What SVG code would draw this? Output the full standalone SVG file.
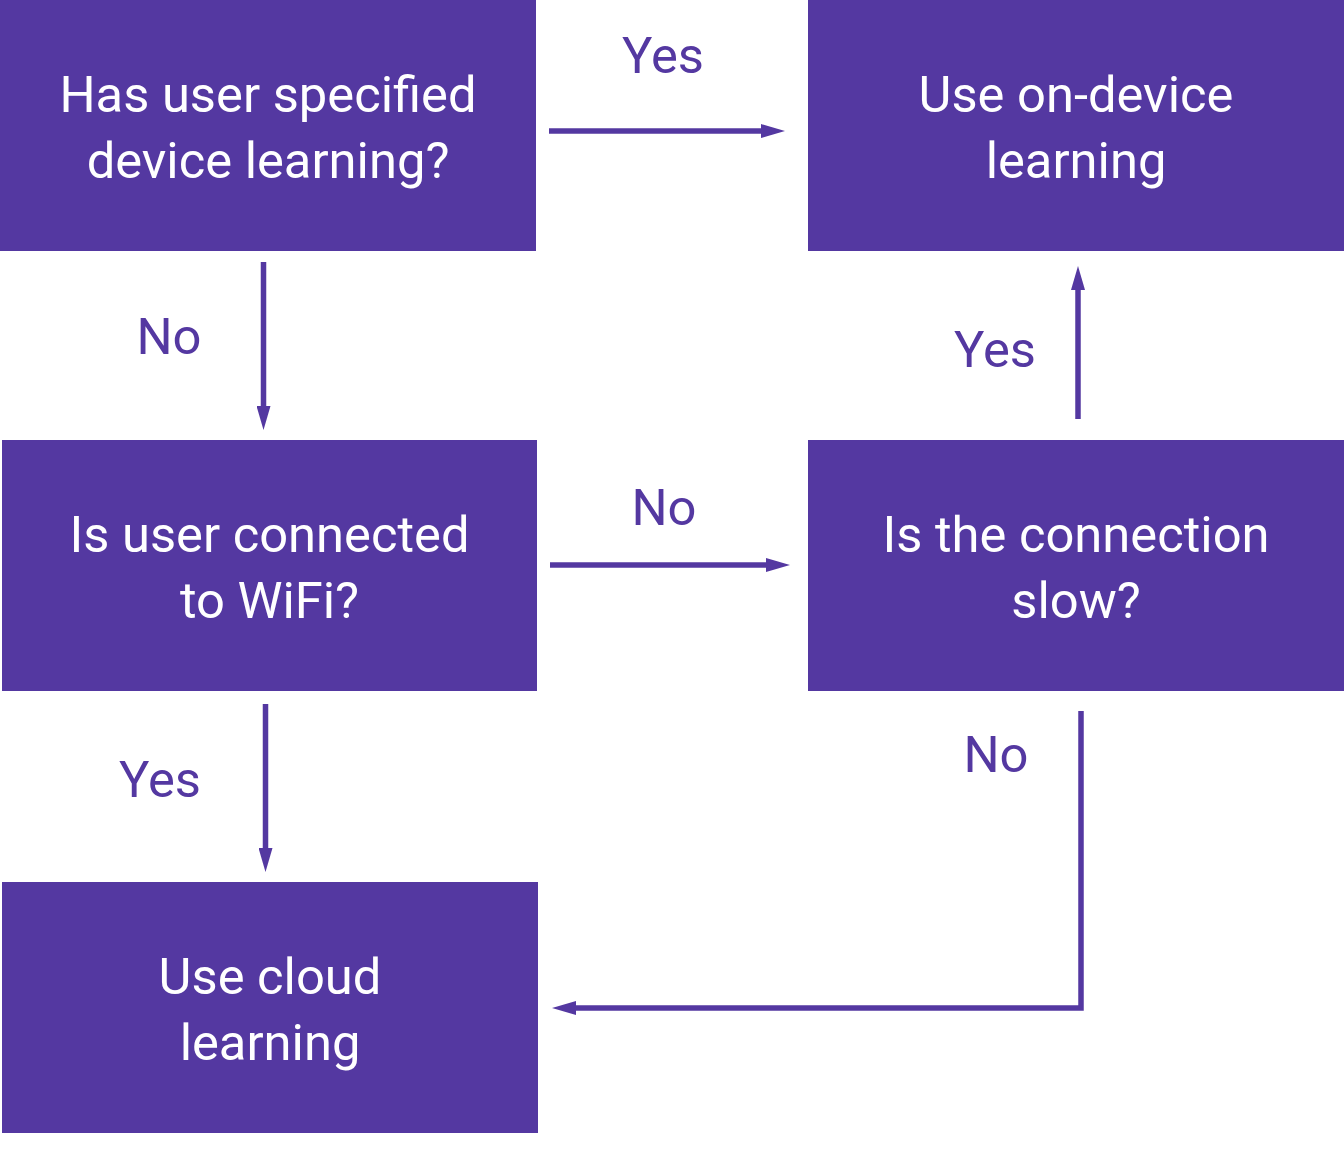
<svg xmlns="http://www.w3.org/2000/svg" width="1344" height="1160" viewBox="0 0 1344 1160">
<style>
.box{fill:#5438a1}
.t{font-family:Roboto,"Liberation Sans",sans-serif;font-size:50.7px;fill:#ffffff;text-anchor:middle}
.l{font-family:Roboto,"Liberation Sans",sans-serif;font-size:50.7px;fill:#5438a1;text-anchor:middle}
.c{fill:none;stroke:#5438a1;stroke-width:5.5}
</style>
<defs>
<marker id="ah" viewBox="0 0 24 14" refX="0" refY="7" markerWidth="24" markerHeight="14" markerUnits="userSpaceOnUse" orient="auto">
<path d="M0,0 L24,7 L0,14 z" fill="#5438a1"/>
</marker>
</defs>
<rect width="1344" height="1160" fill="#ffffff"/>
<g id="n1"><rect class="box" x="0" y="0" width="536" height="251"/><text class="t" x="268" y="112">Has user specified</text><text class="t" x="268" y="178">device learning?</text></g>
<g id="n2"><rect class="box" x="808" y="0" width="536" height="251"/><text class="t" x="1076" y="112">Use on-device</text><text class="t" x="1076" y="178">learning</text></g>
<g id="n3"><rect class="box" x="2" y="440" width="535" height="251"/><text class="t" x="269.5" y="552">Is user connected</text><text class="t" x="269.5" y="618">to WiFi?</text></g>
<g id="n4"><rect class="box" x="808" y="440" width="536" height="251"/><text class="t" x="1076" y="552">Is the connection</text><text class="t" x="1076" y="618">slow?</text></g>
<g id="n5"><rect class="box" x="2" y="882" width="536" height="251"/><text class="t" x="270" y="994">Use cloud</text><text class="t" x="270" y="1060">learning</text></g>
<g id="connectors">
<path class="c" d="M549,131 H761" marker-end="url(#ah)"/>
<path class="c" d="M263.5,262 V406" marker-end="url(#ah)"/>
<path class="c" d="M550,565 H766" marker-end="url(#ah)"/>
<path class="c" d="M265.5,704 V848" marker-end="url(#ah)"/>
<path class="c" d="M1078,419 V290" marker-end="url(#ah)"/>
<path class="c" d="M1081,711 V1008 H576" marker-end="url(#ah)"/>
<text class="l" x="663" y="73">Yes</text>
<text class="l" x="169" y="354">No</text>
<text class="l" x="995" y="367">Yes</text>
<text class="l" x="664" y="525">No</text>
<text class="l" x="160" y="797">Yes</text>
<text class="l" x="996" y="772">No</text>
</g>
</svg>
